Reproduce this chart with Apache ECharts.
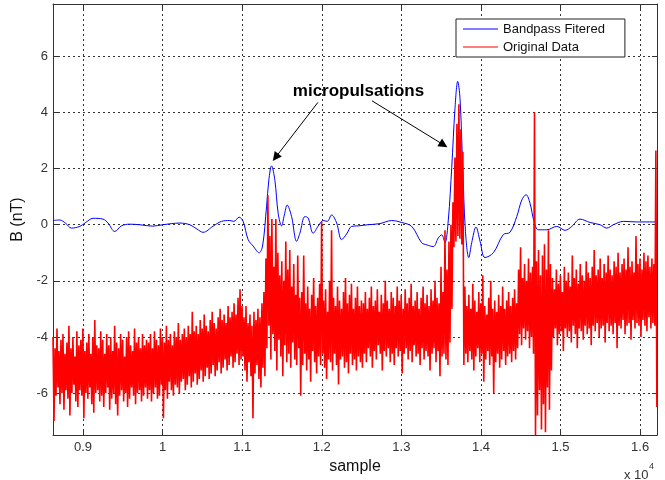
<!DOCTYPE html>
<html>
<head>
<meta charset="utf-8">
<script src="https://cdn.jsdelivr.net/npm/echarts@6/dist/echarts.min.js"></script>
<style>
  html, body { margin: 0; padding: 0; background: #ffffff; }
  #chart { width: 665px; height: 480px; }
</style>
</head>
<body>
<div id="chart"></div>
<script>
// Axis extents (sample index, nT)
const X_MIN = 8623, X_MAX = 16212;
const Y_MIN = -7.5, Y_MAX = 7.87;

// Bandpass filtered trace: sample index and value
const filteredX = [
  8623, 8707, 8783, 8854, 8959, 9034, 9126, 9252, 9315, 9399,
  9483, 9587, 9713, 9877, 10002, 10216, 10342, 10430, 10509, 10635,
  10740, 10845, 10895, 10962, 11012, 11075, 11138, 11213, 11256, 11306,
  11335, 11369, 11411, 11452, 11495, 11530, 11565, 11620, 11684, 11725,
  11788, 11829, 11892, 11955, 12018, 12068, 12124, 12187, 12249, 12312,
  12375, 12458, 12580, 12731, 12878, 13004, 13130, 13255, 13322, 13401,
  13464, 13507, 13548, 13590, 13633, 13674, 13708, 13737, 13771, 13804,
  13847, 13884, 13938, 13989, 14051, 14156, 14281, 14365, 14450, 14513,
  14567, 14617, 14667, 14721, 14827, 14953, 15057, 15141, 15245, 15371,
  15497, 15581, 15664, 15790, 15958, 16212
];
const filteredY = [
  0.15, 0.17, 0.05, -0.12, -0.06, 0.08, 0.23, 0.20, 0.06, -0.24,
  -0.04, 0.02, 0.00, -0.05, 0.00, 0.06, 0.00, -0.15, -0.27, -0.05,
  0.12, 0.15, 0.12, 0.27, 0.12, -0.53, -0.76, -1.00, -0.76, 0.64,
  1.60, 2.10, 1.58, 0.41, -0.04, 0.35, 0.70, 0.30, -0.59, -0.30,
  0.29, 0.24, -0.30, -0.05, 0.15, 0.12, 0.35, 0.06, -0.53, -0.33,
  -0.06, -0.04, 0.00, 0.04, 0.15, 0.08, -0.06, -0.64, -0.72, -0.78,
  -0.47, -0.36, -0.64, 0.17, 2.05, 4.15, 5.11, 4.50, 2.05, -0.18,
  -1.17, -0.64, -0.08, -0.59, -1.17, -1.00, -0.35, -0.27, 0.29, 0.88,
  1.07, 0.76, 0.12, -0.18, -0.18, -0.06, -0.20, -0.06, 0.20, 0.08,
  0.00, -0.12, 0.00, 0.12, 0.10, 0.10
];

// Original record, summarised as successive high/low excursions
const originalStart = 8623;
const originalStep = 25;
const originalHigh = [
  -4.0, -4.4, -3.7, -4.5, -4.1, -3.9, -4.6, -4.2, -3.6, -4.4,
  -4.0, -4.7, -3.8, -4.3, -4.1, -3.7, -4.5, -4.2, -3.9, -4.6,
  -4.0, -3.4, -4.3, -4.4, -3.8, -4.1, -4.6, -3.9, -4.3, -4.0,
  -4.5, -3.6, -4.2, -4.4, -3.9, -4.1, -4.7, -4.0, -3.8, -4.3,
  -4.5, -3.7, -4.2, -4.0, -4.4, -3.9, -4.3, -4.1,
  -4.2, -3.9, -4.4, -3.8, -4.1, -4.3, -3.7, -4.0, -4.2, -3.6,
  -4.1, -3.9, -4.3, -3.8, -4.0, -3.5, -4.1, -3.9, -3.7, -4.0,
  -3.6, -3.9, -3.1, -3.8, -3.6, -3.9, -3.4, -3.7, -3.2, -3.6,
  -3.8, -3.4, -3.1, -3.5, -3.7, -3.3, -3.0, -3.4, -3.2, -3.5,
  -2.9, -3.3, -3.1, -2.8, -3.2, -2.6, -2.3, -2.9,
  -3.3, -2.9, -3.5, -3.2, -3.6, -3.1, -3.4, -3.0, -3.3, -2.8, -2.4,
  -1.2, 1.05, -0.4, 0.2, -1.5, 0.2, -1.0, -1.8, -1.3, -2.0,
  -0.6, -1.6, -0.9, -2.2, -1.4, -2.5, -1.1, -2.6,
  -2.4, -1.1, -2.8, -2.2, -3.0, -2.5, -1.9, -2.9, -2.6, -2.1,
  0.1, -2.7, -2.3, -3.1, -2.0, -0.2, -2.6, -2.9, -2.2, -2.7,
  -3.0, -2.4, -1.9, -2.8, -2.5, -2.1, -3.0, -2.6, -2.2, -2.9,
  -2.7,
  -2.8, -2.4, -3.0, -2.6, -2.2, -2.9, -2.7, -2.3, -3.1, -2.5,
  -2.8, -2.0, -2.7, -3.0, -2.4, -2.6, -2.9, -2.2, -2.7, -2.5,
  -3.0, -2.3, -2.8, -2.6, -2.1, -2.9, -2.7, -2.4, -3.0, -2.6,
  -2.2, -2.8, -2.5, -2.9, -2.3, -2.7, -2.0, -2.6, -2.8, -1.5,
  -2.4,
  -0.2, -1.6, -0.6, 0.0, 0.8, 2.4, 3.6, 4.3, 3.4,
  2.6, -2.2, -2.9, -2.5, -3.0, -2.1, -2.7, -3.1, -2.4, -2.8,
  -1.8, -2.9, -3.2, -2.6, -2.0, -3.0, -2.7, -3.1, -2.5, -2.9,
  -2.2, -3.0, -2.7, -2.4, -2.9, -2.6, -2.3, -2.8,
  -1.6, -0.8, -1.9, -1.4, -2.0, -1.2, -1.7, -1.5, 4.0,
  -1.3, -0.9, -1.8, -1.1, -0.7, -1.6, -0.2, -1.4,
  -1.9, -2.3, -1.6, -2.1, -1.8, -2.4, -1.5, -2.0, -1.7, -2.2,
  -1.1, -1.9, -1.6, -2.1, -1.4, -1.8, -2.0, -1.3, -1.7, -1.9,
  -1.5, -0.9, -1.8, -1.6, -1.2, -1.9, -1.4, -1.7, -1.1, -1.6,
  -1.8, -1.3, -1.5, -1.0, -1.7, -1.4, -1.2, -1.6, -0.8, -1.5,
  -1.3, -1.7, -0.4, -1.4, -1.2, -1.6, -1.0, -1.3, -1.1, -1.5,
  -1.2, -1.4, 2.65
];
const originalLow = [
  -7.0, -6.1, -5.8, -6.4, -6.0, -6.6, -5.9, -6.2, -6.8, -6.0,
  -5.7, -6.3, -6.5, -5.9, -6.1, -6.9, -6.0, -6.2, -5.8, -6.4,
  -6.7, -6.0, -5.9, -6.3, -6.1, -6.5, -6.0, -5.8, -6.6, -6.2,
  -6.0, -6.4, -6.8, -6.1, -5.9, -6.3, -6.0, -6.5, -6.2, -5.8,
  -6.1, -6.4, -6.0, -5.9, -6.3, -6.1, -5.8, -6.2,
  -5.9, -6.3, -6.0, -5.8, -6.2, -6.1, -5.7, -6.9, -5.9, -6.2,
  -5.6, -5.9, -6.1, -5.7, -5.8, -6.0, -5.6, -5.5, -5.9, -5.7,
  -5.4, -5.8, -5.6, -5.3, -5.7, -5.5, -5.2, -5.6, -5.4, -5.1,
  -5.5, -5.3, -5.0, -5.4, -5.2, -4.9, -5.3, -5.1, -4.8, -5.2,
  -5.0, -4.7, -5.1, -4.9, -4.6, -5.0, -4.8, -4.7,
  -5.2, -5.6, -4.9, -5.4, -6.9, -5.3, -5.0, -5.5, -5.8, -5.1, -5.4,
  -4.4, -3.6, -4.8, -3.9, -4.5, -5.2, -4.1, -4.7, -5.4, -4.3,
  -4.9, -4.6, -5.1, -4.2, -4.8, -5.0, -4.4, -6.1,
  -5.0, -4.6, -5.2, -4.8, -5.6, -4.5, -4.9, -5.3, -4.7, -5.0,
  -4.6, -5.1, -5.5, -4.8, -4.9, -5.2, -4.6, -5.0, -5.7, -4.8,
  -4.7, -5.1, -4.9, -5.3, -4.6, -5.0, -4.8, -5.2, -4.7, -4.9,
  -5.1,
  -4.6, -4.9, -4.4, -4.7, -5.1, -4.5, -4.8, -4.3, -4.6, -5.2,
  -4.5, -4.7, -4.4, -4.9, -4.6, -5.0, -4.4, -4.7, -4.5, -5.3,
  -4.6, -4.4, -4.8, -4.5, -4.9, -4.3, -4.7, -4.6, -5.0, -4.4,
  -4.8, -4.5, -4.7, -5.2, -4.6, -4.4, -4.9, -4.5, -5.4, -4.7,
  -4.6,
  -4.8, -5.0, -4.2, -3.0, -0.8, -0.6, -0.4, -0.5, -0.7,
  -5.0, -4.6, -4.9, -4.5, -4.8, -5.2, -4.7, -4.4, -4.9, -4.6,
  -5.6, -4.8, -4.5, -5.0, -4.7, -6.0, -4.9, -4.6, -5.1, -4.8,
  -4.5, -5.0, -4.7, -4.6, -4.9, -4.5, -4.8, -4.4,
  -3.9, -4.3, -3.7, -4.1, -3.8, -4.4, -4.0, -4.6, -7.5,
  -6.8, -5.9, -7.3, -6.4, -7.4, -5.8, -6.6, -5.2,
  -4.0, -3.7, -4.3, -3.9, -3.8, -4.5, -3.7, -4.0, -3.8, -4.2,
  -3.6, -3.9, -4.4, -3.7, -3.8, -4.1, -3.6, -3.9, -3.7, -4.3,
  -3.6, -3.8, -3.5, -4.0, -3.7, -3.6, -4.2, -3.5, -3.8, -3.6,
  -3.9, -3.5, -4.4, -3.6, -3.7, -3.4, -3.9, -3.6, -3.5, -4.1,
  -3.4, -3.7, -3.5, -3.6, -4.0, -3.4, -3.6, -3.8, -3.3, -3.7,
  -3.5, -3.6, -6.5
];

const seriesNames = ['Bandpass Fitered', 'Original Data'];
const annotationText = 'micropulsations';
const annotationAt = [12461, 4.75];
const arrowFrom = [[11951, 4.36], [12630, 4.42]];
const arrowTo = [[11419, 2.40], [13530, 2.85]];

const FONT = "'Liberation Sans', Arial, Helvetica, sans-serif";
const INK = '#333333';

const filteredData = filteredX.map((x, i) => [x, filteredY[i]]);
const originalData = [];
originalHigh.forEach((hi, i) => {
  const x = originalStart + i * originalStep;
  originalData.push([x, hi]);
  originalData.push([x + originalStep / 2, originalLow[i]]);
});

function frameAxis(extra) {
  return Object.assign({
    type: 'value',
    axisLine: { show: true, onZero: false, lineStyle: { color: INK, width: 1 } },
    axisTick: { show: true, inside: true, length: 5, lineStyle: { color: INK, width: 1 } },
    axisLabel: { show: false },
    splitLine: { show: false }
  }, extra);
}

const chart = echarts.init(document.getElementById('chart'), null, { renderer: 'canvas' });
chart.setOption({
  animation: false,
  backgroundColor: '#ffffff',
  textStyle: { fontFamily: FONT },
  grid: { left: 53, right: 8, top: 4, bottom: 38, containLabel: false },
  legend: {
    data: [
      { name: seriesNames[0], icon: 'rect' },
      { name: seriesNames[1], icon: 'rect' }
    ],
    orient: 'vertical',
    left: 456,
    top: 19,
    itemWidth: 35,
    itemHeight: 1,
    itemGap: 4,
    padding: [3, 20, 3, 7],
    backgroundColor: '#ffffff',
    borderColor: '#222222',
    borderWidth: 1,
    borderRadius: 0,
    selectedMode: false,
    textStyle: { fontFamily: FONT, fontSize: 13, color: '#111111', lineHeight: 14 }
  },
  xAxis: [
    frameAxis({
      position: 'bottom',
      min: X_MIN, max: X_MAX,
      splitNumber: 8, minInterval: 1000, maxInterval: 1000,
      axisLabel: {
        show: true, margin: 6, color: INK, fontSize: 13, fontFamily: FONT,
        showMinLabel: false, showMaxLabel: false,
        formatter: v => String(+(v / 10000).toFixed(1))
      },
      splitLine: { show: true, lineStyle: { color: '#333333', width: 1, type: [2, 3] } },
      name: 'sample',
      nameLocation: 'middle',
      nameGap: 18,
      nameTextStyle: { fontFamily: FONT, fontSize: 16, color: '#111111' }
    }),
    frameAxis({
      position: 'top',
      min: X_MIN, max: X_MAX,
      splitNumber: 8, minInterval: 1000, maxInterval: 1000
    })
  ],
  yAxis: [
    frameAxis({
      position: 'left',
      min: Y_MIN, max: Y_MAX,
      splitNumber: 8, minInterval: 2, maxInterval: 2,
      axisLabel: {
        show: true, margin: 5, color: INK, fontSize: 13, fontFamily: FONT,
        showMinLabel: false, showMaxLabel: false,
        formatter: v => String(v)
      },
      splitLine: { show: true, lineStyle: { color: '#333333', width: 1, type: [2, 3] } },
      name: 'B (nT)',
      nameLocation: 'middle',
      nameGap: 21,
      nameTextStyle: { fontFamily: FONT, fontSize: 16, color: '#111111' }
    }),
    frameAxis({
      position: 'right',
      min: Y_MIN, max: Y_MAX,
      splitNumber: 8, minInterval: 2, maxInterval: 2
    })
  ],
  series: [
    {
      name: seriesNames[0],
      type: 'line',
      xAxisIndex: 0,
      yAxisIndex: 0,
      data: filteredData,
      symbol: 'none',
      showSymbol: false,
      smooth: 0.35,
      z: 2,
      lineStyle: { color: '#0000ff', width: 1 },
      itemStyle: { color: '#0000ff' },
      emphasis: { disabled: true },
      markLine: {
        silent: true,
        animation: false,
        symbol: ['none', 'triangle'],
        symbolSize: 9,
        label: { show: false },
        lineStyle: { color: '#000000', width: 1, type: 'solid' },
        emphasis: { disabled: true },
        data: arrowFrom.map((p, i) => [{ coord: p }, { coord: arrowTo[i] }])
      },
      markPoint: {
        silent: true,
        animation: false,
        symbol: 'circle',
        symbolSize: 0,
        label: {
          show: true,
          position: 'inside',
          formatter: annotationText,
          fontFamily: FONT,
          fontSize: 17,
          fontWeight: 'bold',
          color: '#000000'
        },
        data: [{ coord: annotationAt }]
      }
    },
    {
      name: seriesNames[1],
      type: 'line',
      xAxisIndex: 0,
      yAxisIndex: 0,
      data: originalData,
      symbol: 'none',
      showSymbol: false,
      sampling: null,
      z: 3,
      lineStyle: { color: '#ff0000', width: 1.6, join: 'bevel' },
      itemStyle: { color: '#ff0000' },
      emphasis: { disabled: true }
    }
  ],
  graphic: [
    {
      type: 'text',
      left: 624,
      top: 469,
      style: { text: 'x 10', font: '13px ' + FONT, fill: INK }
    },
    {
      type: 'text',
      left: 649,
      top: 462,
      style: { text: '4', font: '9px ' + FONT, fill: INK }
    }
  ]
});
</script>
</body>
</html>
